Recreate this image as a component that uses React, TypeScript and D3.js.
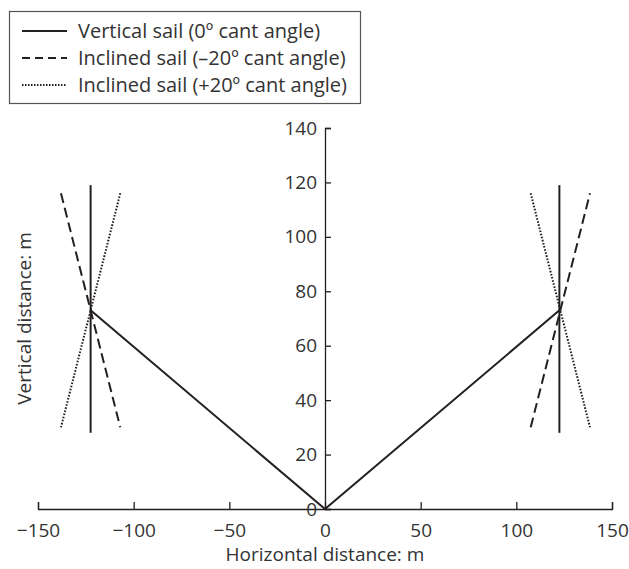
import * as d3 from 'd3'
import React, { useRef, useEffect } from 'react'

// cable from the origin out to the two sail tips
const cablePoints: [number, number][] = [[-122.5, 73], [0, 0], [122.5, 73]]
// sail outlines as [x, y] end points (m)
const verticalSails: [number, number][][] = [
  [[-122.5, 28], [-122.5, 119]],
  [[122.5, 28], [122.5, 119]],
]
const minusSails: [number, number][][] = [
  [[-138, 116], [-107, 30]],
  [[107.5, 30], [138.5, 116]],
]
const plusSails: [number, number][][] = [
  [[-107, 116], [-138, 30]],
  [[107.5, 116], [138.5, 30]],
]
const xTicks = [-150, -100, -50, 0, 50, 100, 150]
const yTicks = [0, 20, 40, 60, 80, 100, 120, 140]
const legendLabels = [
  'Vertical sail (0º cant angle)',
  'Inclined sail (–20º cant angle)',
  'Inclined sail (+20º cant angle)',
]
const legendDashes = ['none', '8,5', '1.5,1.5']

const W = 629
const H = 569
const FONT = '"Open Sans", sans-serif'
const INK = '#231f20'
const TEXT = '#333'

export default function App() {
  const svgRef = useRef(null)

  function renderChart() {
    const svg = d3.select(svgRef.current)
    svg.selectAll('*').remove()
    svg.attr('width', W).attr('height', H)

    const x = d3.scaleLinear().domain([-150, 150]).range([38, 612])
    const y = d3.scaleLinear().domain([0, 140]).range([509, 128])

    const xAxis = svg.append('g')
      .attr('transform', `translate(0,${y(0)})`)
      .call(d3.axisBottom(x).tickValues(xTicks).tickSizeInner(-7).tickSizeOuter(-7).tickPadding(15).tickFormat((d) => d3.format('d')(d as number).replace('-', '–')))
    const yAxis = svg.append('g')
      .attr('transform', `translate(${x(0)},0)`)
      .call(d3.axisLeft(y).tickValues(yTicks).tickSizeInner(-6).tickSizeOuter(-6).tickPadding(8))

    for (const g of [xAxis, yAxis]) {
      g.selectAll('path, line').attr('stroke', INK).attr('stroke-width', 1.3)
      g.selectAll('text').attr('font-family', FONT).attr('font-size', 19).attr('fill', TEXT)
    }

    const line = d3.line<[number, number]>().x((d) => x(d[0])).y((d) => y(d[1]))

    const groups: [[number, number][][], string][] = [
      [verticalSails, 'none'],
      [minusSails, '10,5'],
      [plusSails, '1.6,1.6'],
    ]
    groups.forEach(([lines, dash]) => {
      svg.append('g')
        .selectAll('path')
        .data(lines)
        .join('path')
        .attr('d', (d) => line(d))
        .attr('fill', 'none')
        .attr('stroke', INK)
        .attr('stroke-width', 2)
        .attr('stroke-dasharray', dash)
    })

    svg.append('path')
      .attr('d', line(cablePoints))
      .attr('fill', 'none')
      .attr('stroke', INK)
      .attr('stroke-width', 2)

    svg.append('text')
      .text('Horizontal distance: m')
      .attr('x', x(0))
      .attr('y', 561)
      .attr('text-anchor', 'middle')
      .attr('font-family', FONT)
      .attr('font-size', 19)
      .attr('fill', TEXT)

    svg.append('text')
      .text('Vertical distance: m')
      .attr('transform', `translate(31,${(y(0) + y(140)) / 2}) rotate(-90)`)
      .attr('text-anchor', 'middle')
      .attr('font-family', FONT)
      .attr('font-size', 19)
      .attr('fill', TEXT)

    // legend
    const legend = svg.append('g')
    legend.append('rect')
      .attr('x', 9.5).attr('y', 11.5)
      .attr('width', 351).attr('height', 92)
      .attr('fill', 'white')
      .attr('stroke', '#555')
      .attr('stroke-width', 1.2)

    const rows = legend.selectAll('g.row')
      .data(legendLabels)
      .join('g')
      .attr('class', 'row')
      .attr('transform', (_, i) => `translate(0,${31 + i * 27})`)

    rows.append('line')
      .attr('x1', 22).attr('x2', 67)
      .attr('stroke', INK)
      .attr('stroke-width', 2)
      .attr('stroke-dasharray', (_, i) => legendDashes[i])

    rows.append('text')
      .text((d) => d)
      .attr('x', 78)
      .attr('dy', '0.35em')
      .attr('font-family', FONT)
      .attr('font-size', 20)
      .attr('fill', TEXT)
  }

  useEffect(() => {
    renderChart()
  }, [])

  return (
    <div style={{ position: 'absolute', left: 0, top: 0 }}>
      <svg ref={svgRef} style={{ display: 'block' }} />
    </div>
  )
}
